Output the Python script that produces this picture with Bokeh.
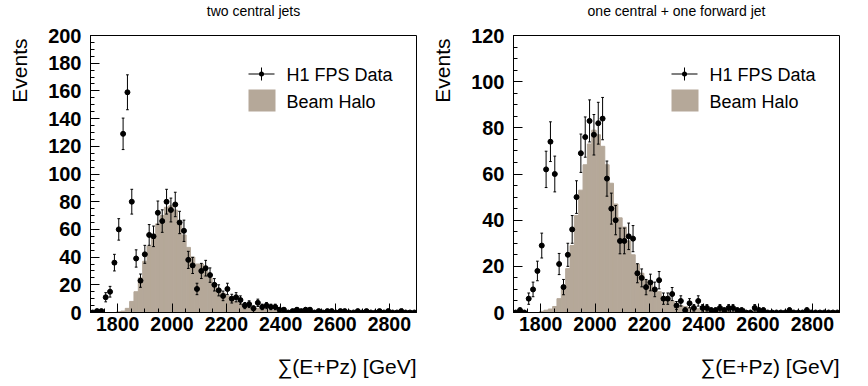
import numpy as np
from bokeh.plotting import figure
from bokeh.models import Range1d, FixedTicker, Label, BoxAnnotation, ColumnDataSource, Title
from bokeh.layouts import row
from bokeh.embed import file_html
from bokeh.resources import INLINE

# ---------------- data (16 GeV bins from 1700 to 2900 GeV) ----------------
XMIN, XMAX, BINW = 1700, 2900, 16

left_title = "two central jets"
right_title = "one central + one forward jet"

left_data = [0, 1, 1, 11, 15, 36, 60, 129, 159, 80,
             39, 23, 42, 56, 55, 72, 66, 80, 74, 78,
             65, 59, 38, 34, 17, 30, 32, 27, 20, 16,
             12, 17, 10, 11, 9, 5, 6, 3, 7, 4,
             5, 4, 4, 2, 2, 0, 1, 2, 1, 2,
             2, 0, 1, 0, 1, 1, 0, 1, 1, 0,
             0, 1, 0, 1, 0, 0, 1, 0, 1, 0,
             0, 1, 0, 0, 0]
left_halo = [0, 0, 0, 0, 0, 0, 0.5, 1, 3, 8,
             15, 25, 37, 48, 54, 64, 70, 76, 77, 74,
             64, 56, 47, 40, 35, 35, 30, 25, 20, 17,
             14, 12, 10, 8, 6.5, 5, 4.3, 3.6, 3, 2.4,
             2, 1.7, 1.5, 1.2, 1, 1, 0.8, 0.5, 0.5, 0.5,
             0.5, 0.5, 0.5, 0.5, 0.5, 0.5, 0, 0, 0, 0,
             0, 0, 0, 0, 0, 0, 0, 0, 0, 0,
             0, 0, 0, 0, 0]

right_data = [0, 1, 0, 6, 10, 18, 29, 62, 74, 60,
              21, 11, 25, 36, 50, 69, 76, 83, 77, 82,
              84, 58, 45, 40, 31, 31, 33, 32, 17, 15,
              11, 13, 10, 14, 6, 6, 8, 3, 5, 1,
              4, 2, 5, 2, 2, 1, 1, 2, 1, 2,
              2, 1, 1, 0, 0, 2, 1, 1, 0, 0,
              0, 0, 0, 1, 0, 0, 0, 1, 0, 0,
              0, 0, 0, 0, 0]
right_halo = [0, 0, 0, 0, 0, 0, 0.5, 1, 1.5, 2.6,
              6, 11, 19, 29, 42, 53, 64, 73, 79, 77,
              72, 64, 56, 47, 41, 37, 31, 25, 21, 17,
              14, 12, 10, 9, 7, 6, 5, 4, 3, 2.6,
              2.2, 1.8, 1.6, 1, 1, 1, 1, 1, 0.5, 0.5,
              0.5, 0.5, 0.5, 0.5, 0.5, 0.5, 0.5, 0, 0, 0,
              0, 0, 0, 0, 0, 0, 0, 0, 0, 0,
              0, 0, 0, 0, 0]

x_ticks = [1800, 2000, 2200, 2400, 2600, 2800]
left_y_ticks = [0, 20, 40, 60, 80, 100, 120, 140, 160, 180, 200]
right_y_ticks = [0, 20, 40, 60, 80, 100, 120]

legend_labels = ["H1 FPS Data", "Beam Halo"]
x_title = "\u2211(E+Pz) [GeV]"
y_title = "Events"

HALO = "#b5a899"
FONT = "Liberation Sans"
H = 386
BT, BB = 35, 74


def spacer(standoff):
    return Title(text=" ", text_font_size="1px", standoff=standoff)


def make_panel(title, data, halo, ymax, yticks, W, bl, br):
    FW = W - bl - br
    FH = H - BT - BB
    p = figure(width=W, height=H, x_range=Range1d(XMIN, XMAX), y_range=Range1d(0, ymax),
               output_backend="svg", toolbar_location=None,
               min_border_left=bl, min_border_right=br, min_border_top=BT, min_border_bottom=BB)
    p.background_fill_color = "white"
    p.border_fill_color = "white"
    p.outline_line_color = "black"
    p.outline_line_width = 1
    p.xgrid.visible = False
    p.ygrid.visible = False
    p.title = None

    # titles (spacer titles keep them at the right distance from the frame)
    p.add_layout(spacer(12), "above")
    p.add_layout(Title(text=title, align="center", vertical_align="top", standoff=0,
                       text_font=FONT, text_font_style="normal", text_font_size="14px",
                       text_color="black"), "above")

    edges = XMIN + BINW * np.arange(len(halo) + 1)
    centers = edges[:-1] + BINW / 2.0
    halo = np.asarray(halo, float)
    m = halo > 0
    p.quad(left=edges[:-1][m], right=edges[1:][m], bottom=0, top=halo[m],
           fill_color=HALO, line_color=HALO, line_width=1)

    d = np.asarray(data, float)
    err = np.sqrt(d)
    src = ColumnDataSource(dict(x=centers, y=d, lo=d - err, hi=d + err,
                                xl=centers - BINW / 2.0, xr=centers + BINW / 2.0))
    p.segment(x0="xl", y0="y", x1="xr", y1="y", source=src, line_color="black", line_width=1)
    p.segment(x0="x", y0="lo", x1="x", y1="hi", source=src, line_color="black", line_width=1)
    nz = d > 0
    csrc = ColumnDataSource(dict(cl=(centers - 5)[nz], cr=(centers + 5)[nz],
                                 lo=(d - err)[nz], hi=(d + err)[nz]))
    p.segment(x0="cl", y0="lo", x1="cr", y1="lo", source=csrc, line_color="black", line_width=1)
    p.segment(x0="cl", y0="hi", x1="cr", y1="hi", source=csrc, line_color="black", line_width=1)
    p.scatter(x="x", y="y", source=src, size=5, marker="circle",
              fill_color="black", line_color="black")

    # axes
    p.xaxis.ticker = FixedTicker(ticks=x_ticks, minor_ticks=list(range(XMIN, XMAX + 1, 50)))
    p.yaxis.ticker = FixedTicker(ticks=yticks, minor_ticks=list(range(0, ymax + 1, 5)))
    for ax in (p.xaxis, p.yaxis):
        ax.axis_line_color = "black"
        ax.major_tick_line_color = "black"
        ax.minor_tick_line_color = "black"
        ax.major_tick_in = 9
        ax.major_tick_out = 0
        ax.minor_tick_in = 4
        ax.minor_tick_out = 0
        ax.major_label_text_font = FONT
        ax.major_label_text_font_style = "bold"
        ax.major_label_text_color = "black"
    p.xaxis.major_label_text_font_size = "19.5px"
    p.yaxis.major_label_text_font_size = "20px"
    p.xaxis.major_label_standoff = 4
    p.yaxis.major_label_standoff = 9

    # axis titles at the far ends of the axes
    p.add_layout(spacer(18), "below")
    p.add_layout(Title(text=x_title, align="right", vertical_align="top", standoff=0,
                       text_font=FONT, text_font_style="normal", text_font_size="21px",
                       text_color="black"), "below")
    p.add_layout(spacer(12), "left")
    p.add_layout(Title(text=y_title, align="right", vertical_align="bottom", standoff=0, offset=3,
                       text_font=FONT, text_font_style="normal", text_font_size="21px",
                       text_color="black"), "left")

    def lab(cx, cy, text, size, align="left", baseline="middle"):
        p.add_layout(Label(x=cx - bl, y=(BT + FH) - cy, x_units="screen", y_units="screen",
                           text=text, text_font=FONT, text_font_size=f"{size}px",
                           text_align=align, text_baseline=baseline, text_color="black"))

    def box(x0, x1, y0, y1, color, radius=0):
        kw = dict(left=x0 - bl, right=x1 - bl, top=(BT + FH) - y0, bottom=(BT + FH) - y1,
                  left_units="screen", right_units="screen", top_units="screen", bottom_units="screen",
                  fill_color=color, fill_alpha=1.0, line_color=None)
        if radius:
            kw["border_radius"] = radius
        p.add_layout(BoxAnnotation(**kw))

    # legend
    lx = bl + 158
    box(lx, lx + 26, 73, 74, "black")
    box(lx + 12.5, lx + 13.5, 67, 80, "black")
    box(lx + 10.5, lx + 15.5, 71, 76, "black", radius=3)
    box(lx, lx + 27, 89, 111, HALO)
    lab(lx + 38, 74, legend_labels[0], 18)
    lab(lx + 38, 101, legend_labels[1], 18)
    return p


p1 = make_panel(left_title, left_data, left_halo, 200, left_y_ticks, 426, 90, 10)
p2 = make_panel(right_title, right_data, right_halo, 120, right_y_ticks, 442, 87, 29)
p = row(p1, p2)
open("out.html", "w").write(file_html(p, INLINE))
